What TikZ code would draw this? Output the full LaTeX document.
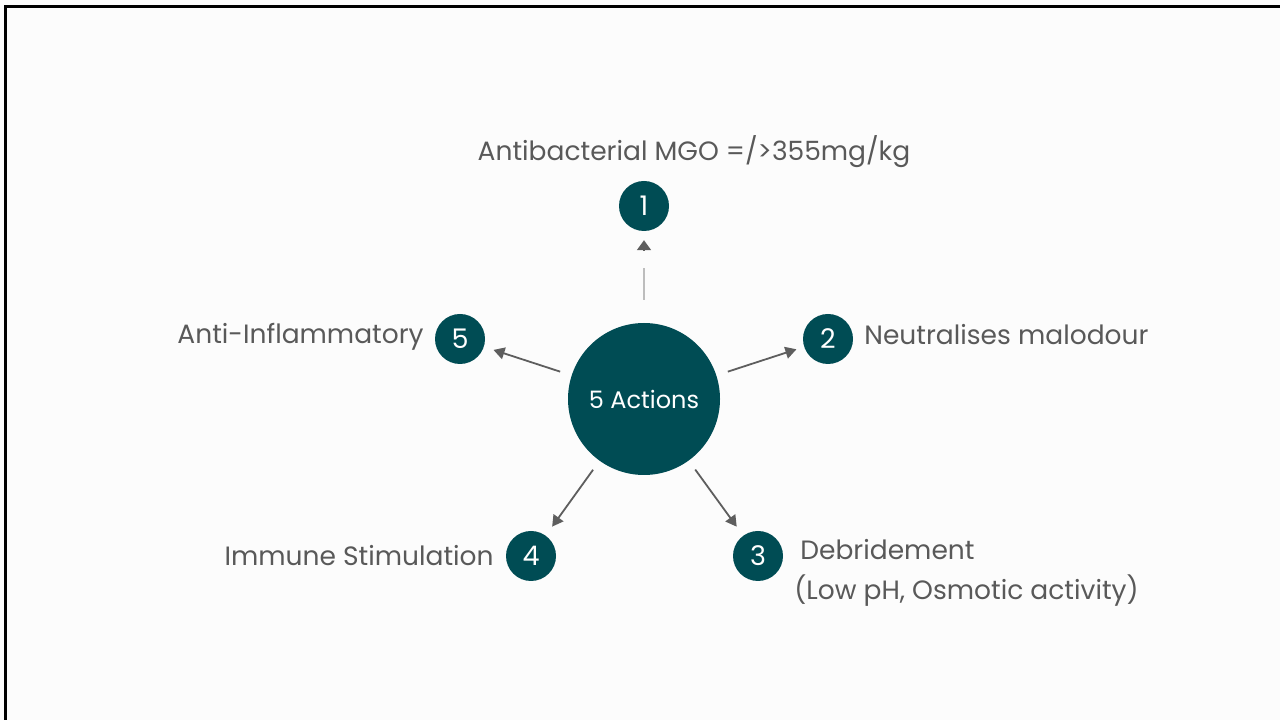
\documentclass[tikz,border=0pt]{standalone}
\usepackage{fontspec}
\setmainfont{Poppins}
\usepackage{tikz}
\usetikzlibrary{arrows.meta, positioning}
\definecolor{tealdark}{HTML}{004C54}
\definecolor{txtgrey}{HTML}{595959}
\definecolor{arrgrey}{HTML}{5E5E5E}
\definecolor{faintgrey}{HTML}{BDBDBD}
\tikzset{
  hub/.style = {circle, fill=tealdark, text=white, minimum size=152pt,
    inner sep=0pt, font=\fontsize{24}{28}\selectfont},
  num/.style = {circle, fill=tealdark, text=white, minimum size=50pt,
    inner sep=0pt, font=\fontsize{27}{30}\selectfont},
  lbl/.style = {text=txtgrey, inner sep=0pt, align=left,
    font=\fontsize{26.5}{40}\selectfont},
  link/.style = {draw=arrgrey, line width=1.8pt}
}

\begin{document}
\begin{tikzpicture}[x=1pt, y=1pt, >={Triangle[length=11pt, width=12pt]}]
\useasboundingbox (0,0) rectangle (1280,720);
\fill[white!99!black] (0,0) rectangle (1280,720);
\draw[line width=3pt] (5.5,0) -- (5.5,713) -- (1280,713);

% hub and the five actions
\node [hub] (c) at (644,321) {5 Actions};
\node [num] (n1) at (644,514) {1};
\node [num] (n2) at (828,381) {2};
\node [num] (n3) at (758,164) {3};
\node [num] (n4) at (531,164) {4};
\node [num] (n5) at (460,381) {5};

\node [lbl, above=13pt of n1, xshift=50pt] (t1) {Antibacterial MGO =/>355mg/kg};
\node [lbl, right=11pt of n2, yshift=4pt] (t2) {Neutralises malodour};
\node [lbl, right=11pt of n3, yshift=-17pt] (t3) {\hspace*{6pt}Debridement\\(Low pH, Osmotic activity)};
\node [lbl, left=12pt of n4] (t4) {Immune Stimulation};
\node [lbl, left=11pt of n5, yshift=2pt] (t5) {Anti-Inflammatory};

% connectors
\draw [draw=faintgrey, line width=1.8pt, shorten <=23pt, shorten >=37pt] (c) -- (n1);
\draw [link, ->, >={Triangle[length=10pt, width=14pt]}, shorten <=73pt, shorten >=9pt] (c) -- (n1);
\draw [link, ->, shorten <=12pt, shorten >=8pt] (c) -- (n2);
\draw [link, ->, shorten <=11pt, shorten >=11pt] (c) -- (n3);
\draw [link, ->, shorten <=11pt, shorten >=11pt] (c) -- (n4);
\draw [link, ->, shorten <=12pt, shorten >=10pt] (c) -- (n5);
\end{tikzpicture}
\end{document}
